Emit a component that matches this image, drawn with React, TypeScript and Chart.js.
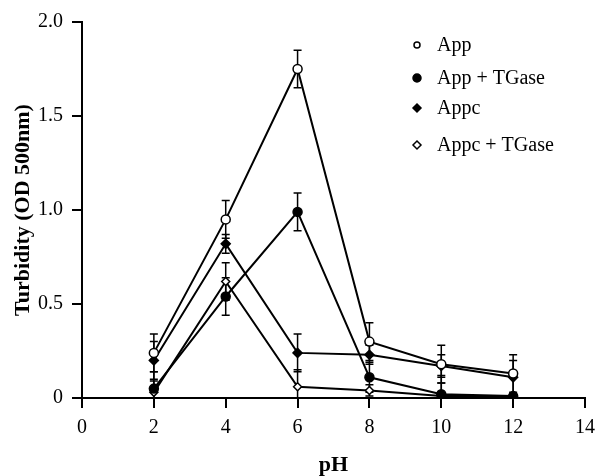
import React, { useEffect, useRef } from "react";
import { Chart, registerables } from "chart.js";

Chart.register(...registerables);

const phValues = [2, 4, 6, 8, 10, 12];
const seriesNames = ["App", "App + TGase", "Appc", "Appc + TGase"];
const appValues = [0.24, 0.95, 1.75, 0.30, 0.18, 0.13];
const appTgaseValues = [0.05, 0.54, 0.99, 0.11, 0.02, 0.01];
const appcValues = [0.20, 0.82, 0.24, 0.23, 0.17, 0.11];
const appcTgaseValues = [0.03, 0.62, 0.06, 0.04, 0.01, 0.01];
const appErrors = [0.10, 0.10, 0.10, 0.10, 0.10, 0.10];
const appTgaseErrors = [0.09, 0.10, 0.10, 0.08, 0.10, 0.01];
const appcErrors = [0.10, 0.05, 0.10, 0.05, 0.06, 0.09];
const appcTgaseErrors = [0.06, 0.10, 0.09, 0.03, 0.07, 0.01];
const xTickLabels = ["0", "2", "4", "6", "8", "10", "12", "14"];
const yTickLabels = ["0", "0.5", "1.0", "1.5", "2.0"];

const SERIF = "'Liberation Serif', 'DejaVu Serif', serif";

const styles = [
  { pointStyle: "circle", fill: "#ffffff", radius: 4.5 },
  { pointStyle: "circle", fill: "#000000", radius: 4.5 },
  { pointStyle: "rectRot", fill: "#000000", radius: 4.5 },
  { pointStyle: "rectRot", fill: "#ffffff", radius: 4 },
];

const errorBarPlugin = {
  id: "errorBars",
  beforeDatasetsDraw(chart: any) {
    const ctx = chart.ctx;
    const xs = chart.scales.x;
    const ys = chart.scales.y;
    ctx.save();
    ctx.strokeStyle = "#000";
    ctx.lineWidth = 1.5;
    chart.data.datasets.forEach((ds: any) => {
      const errs: number[] = ds.errors || [];
      ds.data.forEach((p: any, i: number) => {
        const e = errs[i];
        if (!e) return;
        const px = xs.getPixelForValue(p.x);
        const top = ys.getPixelForValue(p.y + e);
        const bot = ys.getPixelForValue(Math.max(0, p.y - e));
        ctx.beginPath();
        ctx.moveTo(px, top);
        ctx.lineTo(px, bot);
        ctx.moveTo(px - 4, top);
        ctx.lineTo(px + 4, top);
        ctx.moveTo(px - 4, bot);
        ctx.lineTo(px + 4, bot);
        ctx.stroke();
      });
    });
    ctx.restore();
  },
};

const legendPlugin = {
  id: "customLegend",
  afterDraw(chart: any) {
    const ctx = chart.ctx;
    const rows = [45, 78, 108, 145];
    ctx.save();
    chart.data.datasets.forEach((ds: any, i: number) => {
      const y = rows[i];
      const x = 417;
      ctx.fillStyle = ds.pointBackgroundColor;
      ctx.strokeStyle = "#000";
      ctx.lineWidth = 1.5;
      ctx.beginPath();
      if (ds.pointStyle === "circle") {
        const r = i === 0 ? 3 : 4;
        ctx.arc(x, y, r, 0, Math.PI * 2);
      } else {
        const r = 4;
        ctx.moveTo(x, y - r);
        ctx.lineTo(x + r, y);
        ctx.lineTo(x, y + r);
        ctx.lineTo(x - r, y);
        ctx.closePath();
      }
      ctx.fill();
      ctx.stroke();
      ctx.fillStyle = "#000";
      ctx.font = `20px ${SERIF}`;
      ctx.textAlign = "left";
      ctx.textBaseline = "middle";
      ctx.fillText(ds.label, 437, y + 1);
    });
    ctx.restore();
  },
};

export default function App() {
  const ref = useRef<HTMLCanvasElement | null>(null);
  useEffect(() => {
    document.body.style.margin = "0";
    const seriesValues = [appValues, appTgaseValues, appcValues, appcTgaseValues];
    const seriesErrors = [appErrors, appTgaseErrors, appcErrors, appcTgaseErrors];
    const chart = new Chart(ref.current as HTMLCanvasElement, {
      type: "line",
      data: {
        datasets: seriesNames.map((name, i) => ({
          label: name,
          data: phValues.map((x, j) => ({ x, y: seriesValues[i][j] })),
          errors: seriesErrors[i],
          borderColor: "#000",
          borderWidth: 2,
          pointStyle: styles[i].pointStyle,
          pointRadius: styles[i].radius,
          pointBackgroundColor: styles[i].fill,
          pointBorderColor: "#000",
          pointBorderWidth: 1.5,
          tension: 0,
          fill: false,
        })) as any,
      },
      options: {
        responsive: false,
        animation: false,
        layout: { padding: { top: 22, right: 12, left: 0, bottom: 0 } },
        plugins: { legend: { display: false }, tooltip: { enabled: false } },
        scales: {
          x: {
            type: "linear",
            min: 0,
            max: 14,
            afterFit: (s: any) => {
              s.height = 78;
              s.paddingLeft = 0;
              s.paddingRight = 0;
            },
            afterBuildTicks: (s: any) => {
              s.ticks = xTickLabels.map((t) => ({ value: Number(t) }));
            },
            ticks: {
              color: "#000",
              font: { family: SERIF, size: 20 },
              padding: 8,
              callback: (v: any, i: number) => xTickLabels[i],
            },
            grid: { drawOnChartArea: false, tickLength: 10, color: "#000", lineWidth: 2 },
            border: { color: "#000", width: 2 },
            title: {
              display: true,
              text: "pH",
              color: "#000",
              font: { family: SERIF, size: 22, weight: "bold", lineHeight: 1 },
              padding: { top: 0, bottom: 0 },
            },
          },
          y: {
            min: 0,
            max: 2,
            afterFit: (s: any) => {
              s.width = 82;
              s.paddingTop = 0;
              s.paddingBottom = 0;
            },
            afterBuildTicks: (s: any) => {
              s.ticks = yTickLabels.map((t) => ({ value: Number(t) }));
            },
            ticks: {
              color: "#000",
              font: { family: SERIF, size: 20 },
              padding: 9,
              callback: (v: any, i: number) => yTickLabels[i],
            },
            grid: { drawOnChartArea: false, tickLength: 10, color: "#000", lineWidth: 2 },
            border: { color: "#000", width: 2 },
            title: {
              display: true,
              text: "Turbidity (OD 500nm)",
              color: "#000",
              font: { family: SERIF, size: 22, weight: "bold", lineHeight: 1.2 },
              padding: { top: 10, bottom: 0 },
            },
          },
        },
      },
      plugins: [errorBarPlugin, legendPlugin],
    });
    return () => chart.destroy();
  }, []);
  return <canvas ref={ref} width={597} height={476} style={{ display: "block" }} />;
}
